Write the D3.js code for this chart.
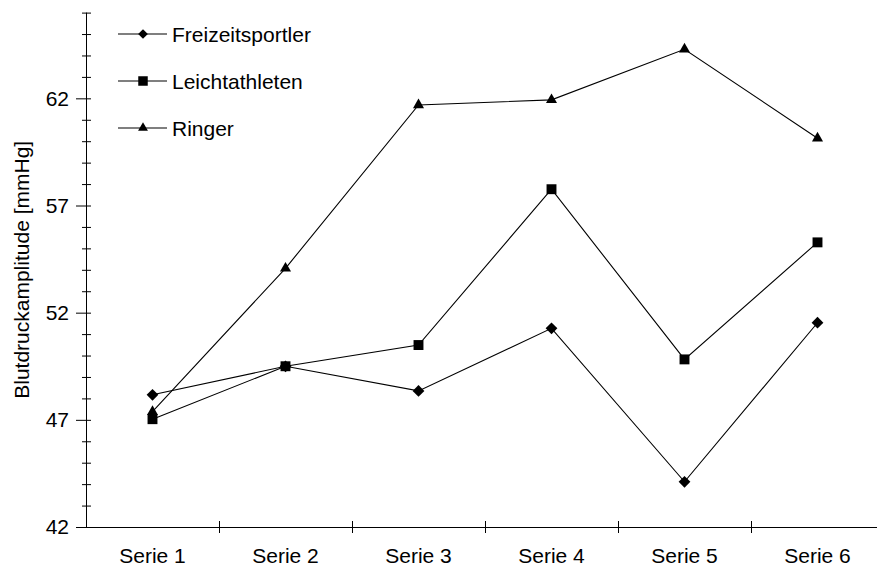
<!DOCTYPE html>
<html>
<head>
<meta charset="utf-8">
<script src="https://cdn.jsdelivr.net/npm/d3@7"></script>
<style>
  html, body { margin: 0; padding: 0; background: #fff; }
  svg { display: block; font-family: "Liberation Sans", Arial, sans-serif; }
</style>
</head>
<body>
<svg id="chart" width="877" height="569"></svg>
<script>
const categories = ["Serie 1", "Serie 2", "Serie 3", "Serie 4", "Serie 5", "Serie 6"];
const freizeitsportler = [48.17, 49.5, 48.35, 51.27, 44.11, 51.53];
const leichtathleten   = [47.03, 49.5, 50.49, 57.76, 49.82, 55.28];
const ringer           = [47.38, 54.07, 61.69, 61.93, 64.29, 60.14];
const seriesNames = ["Freizeitsportler", "Leichtathleten", "Ringer"];
const yMajorTicks = [42, 47, 52, 57, 62];
const yTitle = "Blutdruckamplitude [mmHg]";

const series = [
  { name: seriesNames[0], values: freizeitsportler, shape: "diamond" },
  { name: seriesNames[1], values: leichtathleten, shape: "square" },
  { name: seriesNames[2], values: ringer, shape: "triangle" }
];

const svg = d3.select("#chart");
const x = d3.scaleBand().domain(categories).range([86, 884]).padding(0);
const y = d3.scaleLinear().domain([42, 66]).range([527, 12.6]);
const cx = c => x(c) + x.bandwidth() / 2;

const symbolOf = {
  diamond: d3.symbol().type(d3.symbolDiamond2).size(88),
  square: d3.symbol().type(d3.symbolSquare2).size(125),
  triangle: d3.symbol().type(d3.symbolTriangle2).size(88)
};
const symbolLegend = {
  diamond: d3.symbol().type(d3.symbolDiamond2).size(60),
  square: d3.symbol().type(d3.symbolSquare2).size(115),
  triangle: d3.symbol().type(d3.symbolTriangle2).size(70)
};

// Y axis
const yAxis = d3.axisLeft(y).tickValues(d3.range(42, 67)).tickSizeOuter(0)
  .tickFormat(d => yMajorTicks.includes(d) ? d : "");
const gy = svg.append("g").attr("transform", "translate(86,0)").call(yAxis);
gy.select(".domain").attr("stroke", "#000").attr("d", `M0.5,${y(66)}V${y(42)}`);
gy.selectAll(".tick line")
  .attr("stroke", "#000")
  .attr("x1", d => 5)
  .attr("x2", d => yMajorTicks.includes(d) ? -10 : -4);
gy.selectAll(".tick text")
  .attr("x", -17)
  .attr("fill", "#000")
  .style("font-size", "21px")
  .style("font-family", "'Liberation Sans', Arial, sans-serif");

// X axis
const gx = svg.append("g").attr("transform", "translate(0,527)");
gx.append("line").attr("x1", 80).attr("x2", 884).attr("y1", 0.5).attr("y2", 0.5).attr("stroke", "#000");
gx.selectAll("line.tk").data(categories.slice(1)).enter().append("line")
  .attr("class", "tk")
  .attr("x1", d => x(d) + 0.5).attr("x2", d => x(d) + 0.5)
  .attr("y1", -6).attr("y2", 6).attr("stroke", "#000");
gx.selectAll("text").data(categories).enter().append("text")
  .attr("x", d => cx(d)).attr("y", 36)
  .attr("text-anchor", "middle")
  .style("font-size", "21px")
  .attr("fill", "#000")
  .text(d => d);

// Y title
svg.append("text")
  .attr("transform", `translate(29,${(y(42) + y(66)) / 2}) rotate(-90)`)
  .attr("text-anchor", "middle")
  .style("font-size", "21px")
  .attr("fill", "#000")
  .text(yTitle);

// Lines & markers
const line = d3.line().x((d, i) => cx(categories[i])).y(d => y(d));
series.forEach(s => {
  svg.append("path").datum(s.values)
    .attr("d", line).attr("fill", "none").attr("stroke", "#000").attr("stroke-width", 1.1);
  svg.selectAll(null).data(s.values).enter().append("path")
    .attr("d", symbolOf[s.shape])
    .attr("transform", (d, i) => `translate(${cx(categories[i])},${y(d)})`)
    .attr("fill", "#000");
});

// Legend
const legend = svg.append("g");
series.forEach((s, i) => {
  const ly = 34 + i * 47;
  legend.append("line").attr("x1", 118).attr("x2", 167).attr("y1", ly).attr("y2", ly)
    .attr("stroke", "#000").attr("stroke-width", 1.1);
  legend.append("path").attr("d", symbolLegend[s.shape])
    .attr("transform", `translate(143,${ly})`).attr("fill", "#000");
  legend.append("text").attr("x", 172).attr("y", ly + 7.5)
    .style("font-size", "21px").attr("fill", "#000").text(s.name);
});
</script>
</body>
</html>
